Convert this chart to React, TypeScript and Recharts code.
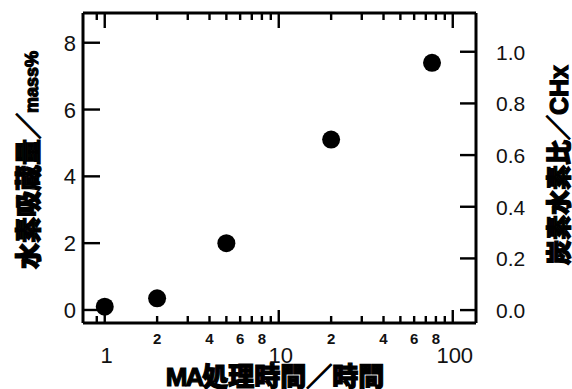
import { ReferenceLine, Scatter, ScatterChart, XAxis, YAxis } from "recharts";

// MA treatment time (h) vs. hydrogen absorption (mass%)
const HOURS = [1, 2, 5, 20, 76];
const H2_MASS = [0.1, 0.35, 2.0, 5.1, 7.4];

const X_MAJOR = [1, 10, 100];
const X_MINOR = [0.9, 2, 3, 4, 5, 6, 7, 8, 9, 20, 30, 40, 50, 60, 70, 80, 90];
const X_LABELED_MINOR = [2, 4, 6, 8, 20, 40, 60, 80];
const LEFT_TICKS = [0, 2, 4, 6, 8];
const RIGHT_TICKS = [0, 0.2, 0.4, 0.6, 0.8, 1.0];

const X_DOMAIN = [0.75, 136];
const LEFT_DOMAIN = [-0.39, 8.89];
const RIGHT_DOMAIN = [-0.05, 1.15];

const points = HOURS.map((h, i) => ({ hours: h, mass: H2_MASS[i] }));
const xTicks = [...X_MAJOR, ...X_MINOR].sort((a, b) => a - b);

const W = 572;
const H = 389;
const PLOT_LEFT = 83;
const PLOT_RIGHT = 476;
const PLOT_TOP = 13;
const PLOT_BOTTOM = 323;

const NUM_FONT = "'Liberation Sans', Arial, sans-serif";
const CJK_FONT = "'Noto Sans CJK JP', 'Noto Sans CJK SC', sans-serif";
const INK = "#000";
const TW = 2.4;

function decadeLabel(v: number): string {
  const base = Math.pow(10, Math.floor(Math.log10(v) + 1e-9));
  return String(Math.round(v / base));
}

// bottom axis tick also draws the matching tick on the top edge of the frame
function BottomTick(props: any) {
  const { x, payload } = props;
  const v = payload.value;
  const major = X_MAJOR.includes(v);
  const labeled = X_LABELED_MINOR.includes(v);
  const len = major ? 13 : 7;
  const topLen = major ? 15 : 7;
  return (
    <g>
      <rect x={x - TW / 2} y={PLOT_BOTTOM - len} width={TW} height={len} fill={INK} />
      <rect x={x - TW / 2} y={PLOT_TOP} width={TW} height={topLen} fill={INK} />
      {major ? (
        <text x={x + 2} y={363} textAnchor="middle" fontFamily={NUM_FONT} fontSize={22} fill="#111">
          {String(v)}
        </text>
      ) : null}
      {labeled ? (
        <text x={x} y={344} textAnchor="middle" fontFamily={NUM_FONT} fontWeight={700} fontSize={15} fill="#111">
          {decadeLabel(v)}
        </text>
      ) : null}
    </g>
  );
}

function LeftTick(props: any) {
  const { y, payload } = props;
  return (
    <g>
      <rect x={PLOT_LEFT} y={y - TW / 2} width={17} height={TW} fill={INK} />
      <text x={76} y={y + 8} textAnchor="end" fontFamily={NUM_FONT} fontSize={22} fill="#111">
        {String(payload.value)}
      </text>
    </g>
  );
}

function RightTick(props: any) {
  const { y, payload } = props;
  return (
    <g>
      <rect x={PLOT_RIGHT - 16} y={y - TW / 2} width={16} height={TW} fill={INK} />
      <text x={496} y={y + 8} textAnchor="start" fontFamily={NUM_FONT} fontSize={21} fill="#111">
        {Number(payload.value).toFixed(1)}
      </text>
    </g>
  );
}

const titleStyle: React.CSSProperties = {
  position: "absolute",
  whiteSpace: "nowrap",
  fontFamily: CJK_FONT,
  fontWeight: 900,
  color: "#000",
  WebkitTextStroke: "1.2px #000",
  lineHeight: 1,
};

export default function App() {
  const axisLine = { stroke: INK, strokeWidth: 3 };
  return (
    <div style={{ position: "absolute", left: 0, top: 0, width: W, height: H }}>
      <ScatterChart width={W} height={H} margin={{ top: PLOT_TOP, right: 0, bottom: 0, left: 0 }}>
        <XAxis
          xAxisId="bottom"
          dataKey="hours"
          type="number"
          scale="log"
          domain={X_DOMAIN}
          allowDataOverflow
          ticks={xTicks}
          interval={0}
          height={H - PLOT_BOTTOM}
          axisLine={axisLine}
          tickLine={false}
          tick={(p: any) => <BottomTick {...p} />}
        />
        <YAxis
          yAxisId="left"
          type="number"
          domain={LEFT_DOMAIN}
          allowDataOverflow
          ticks={LEFT_TICKS}
          interval={0}
          width={PLOT_LEFT}
          axisLine={axisLine}
          tickLine={false}
          tick={(p: any) => <LeftTick {...p} />}
        />
        <YAxis
          yAxisId="right"
          orientation="right"
          type="number"
          domain={RIGHT_DOMAIN}
          allowDataOverflow
          ticks={RIGHT_TICKS}
          interval={0}
          width={W - PLOT_RIGHT}
          axisLine={axisLine}
          tickLine={false}
          tick={(p: any) => <RightTick {...p} />}
        />
        <ReferenceLine xAxisId="bottom" yAxisId="left" y={LEFT_DOMAIN[1]} stroke={INK} strokeWidth={3} />
        <Scatter
          xAxisId="bottom"
          yAxisId="left"
          data={points}
          dataKey="mass"
          isAnimationActive={false}
          fill="#000"
          shape={(p: any) => <circle cx={p.cx} cy={p.cy} r={9} fill="#000" />}
        />
      </ScatterChart>

      <div style={{ ...titleStyle, left: 27, top: 160, fontSize: 26, transform: "translate(-50%, -50%) rotate(-90deg)" }}>
        水素吸蔵量／<span style={{ fontFamily: NUM_FONT, fontSize: 18 }}>mass%</span>
      </div>
      <div style={{ ...titleStyle, left: 558, top: 165, fontSize: 25, transform: "translate(-50%, -50%) rotate(-90deg)" }}>
        炭素水素比／<span style={{ fontFamily: NUM_FONT }}>CHx</span>
      </div>
      <div style={{ ...titleStyle, left: 275, top: 376, fontSize: 26, transform: "translate(-50%, -50%)" }}>
        <span style={{ fontFamily: NUM_FONT, letterSpacing: -2 }}>MA</span>処理時間／時間
      </div>
    </div>
  );
}
